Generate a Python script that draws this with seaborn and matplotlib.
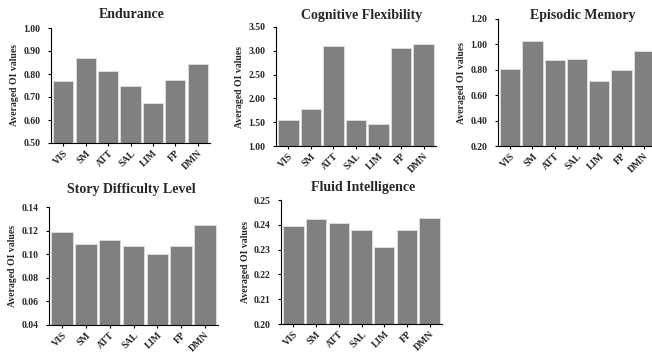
import numpy as np
import pandas as pd
import matplotlib
matplotlib.use("Agg")
import matplotlib.pyplot as plt
import seaborn as sns

networks = ["VIS", "SM", "ATT", "SAL", "LIM", "FP", "DMN"]

endurance = [0.770, 0.868, 0.815, 0.746, 0.672, 0.774, 0.843]
cognitive_flexibility = [1.54, 1.78, 3.11, 1.54, 1.47, 3.05, 3.15]
episodic_memory = [0.808, 1.024, 0.876, 0.887, 0.713, 0.800, 0.950]
story_difficulty = [0.119, 0.1086, 0.112, 0.107, 0.1005, 0.107, 0.1246]
fluid_intelligence = [0.2397, 0.2423, 0.2408, 0.2380, 0.2311, 0.2380, 0.2427]

sns.set_theme(style="white")
plt.rcParams["font.family"] = ["Liberation Serif", "DejaVu Serif"]
plt.rcParams["font.weight"] = "bold"

W, H = 652, 354
fig = plt.figure(figsize=(W / 100, H / 100), dpi=100)

# (title, values, y-limits, y-ticks, axes box in px: left, top, right, bottom, title pos)
panels = [
    ("Endurance", endurance, (0.5, 1.0), np.arange(0.5, 1.001, 0.1),
     (51, 28, 210, 143), (132, 15)),
    ("Cognitive Flexibility", cognitive_flexibility, (1.0, 3.5), np.arange(1.0, 3.501, 0.5),
     (276, 27, 436, 146), (362, 15)),
    ("Episodic Memory", episodic_memory, (0.2, 1.2), np.arange(0.2, 1.201, 0.2),
     (498, 19, 656, 146), (583, 15)),
    ("Story Difficulty Level", story_difficulty, (0.04, 0.14), np.arange(0.04, 0.1401, 0.02),
     (49, 207, 218, 325), (131, 189)),
    ("Fluid Intelligence", fluid_intelligence, (0.20, 0.25), np.arange(0.20, 0.2501, 0.01),
     (281, 200, 442, 324), (363, 188)),
]

for title, vals, ylim, yticks, box, tpos in panels:
    l, t, r, b = box
    ax = fig.add_axes([l / W, (H - b) / H, (r - l) / W, (b - t) / H])
    df = pd.DataFrame({"network": networks, "value": vals})
    sns.barplot(data=df, x="network", y="value", color="#808080", saturation=1,
                width=0.9, edgecolor="#e0e0e0", linewidth=0.6, ax=ax)
    ax.set_ylim(*ylim)
    ax.set_yticks(yticks)
    ax.set_yticklabels(["{:.2f}".format(v) for v in yticks], fontsize=7, fontweight="bold")
    ax.set_xticks(range(len(networks)))
    ax.set_xticklabels(networks, rotation=45, ha="right", rotation_mode="anchor",
                       fontsize=7, fontweight="bold")
    ax.set_xlabel("")
    ax.set_ylabel("Averaged OI values", fontsize=7, fontweight="bold", labelpad=3)
    for s in ["top", "right"]:
        ax.spines[s].set_visible(False)
    for s in ["left", "bottom"]:
        ax.spines[s].set_color("black")
        ax.spines[s].set_linewidth(0.8)
    ax.tick_params(axis="both", which="both", direction="out", length=2.5, width=0.8,
                   color="black", left=True, bottom=True)
    ax.tick_params(axis="y", pad=5)
    ax.tick_params(axis="x", pad=1.5)
    ax.set_xlim(-0.55, len(networks) - 0.45)
    fig.text(tpos[0] / W, 1 - tpos[1] / H, title, ha="center", va="center",
             fontsize=10, fontweight="bold")

fig.savefig("out.png", dpi=100)
